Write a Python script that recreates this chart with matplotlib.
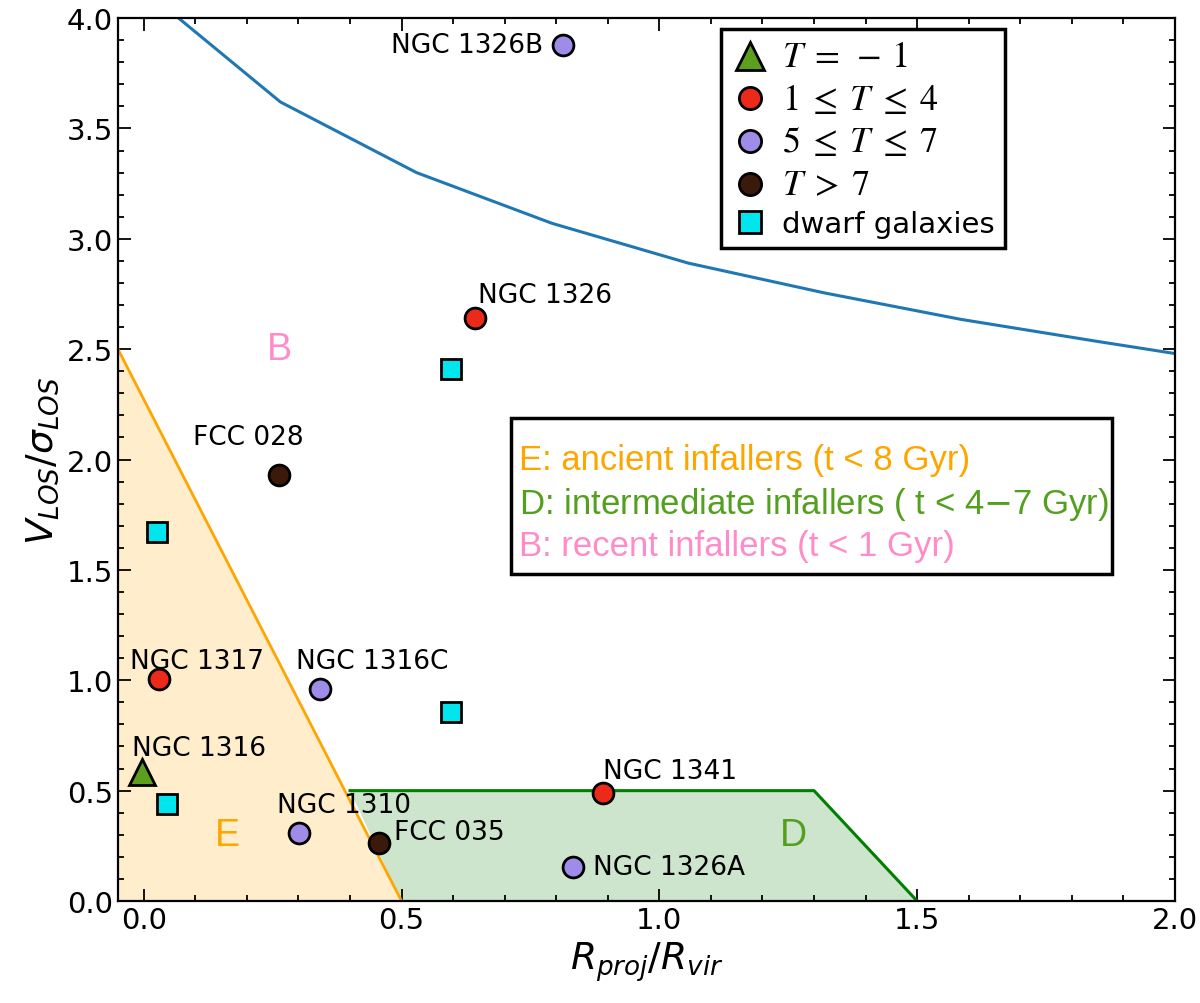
import matplotlib
matplotlib.use('Agg')
import matplotlib.pyplot as plt
from matplotlib.lines import Line2D
from matplotlib.patches import Rectangle, Polygon
from matplotlib.ticker import MultipleLocator

# blue envelope curve
curve_x = [0.0, 0.265, 0.529, 0.792, 1.056, 1.32, 1.585, 1.85, 2.11]
curve_y = [4.13, 3.62, 3.30, 3.07, 2.89, 2.755, 2.635, 2.535, 2.44]

# infall regions
E_x = [-0.05, 0.5, -0.05]
E_y = [2.5, 0.0, 0.0]
D_x = [0.4, 1.3, 1.5, 0.5]
D_y = [0.5, 0.5, 0.0, 0.0]

# galaxies
tm1_x = [-0.003]
tm1_y = [0.585]
tm1_names = ['NGC 1316']

t14_x = [0.03, 0.643, 0.89]
t14_y = [1.005, 2.64, 0.49]
t14_names = ['NGC 1317', 'NGC 1326', 'NGC 1341']

t57_x = [0.342, 0.302, 0.833, 0.813]
t57_y = [0.96, 0.31, 0.152, 3.88]
t57_names = ['NGC 1316C', 'NGC 1310', 'NGC 1326A', 'NGC 1326B']

t7_x = [0.263, 0.456]
t7_y = [1.93, 0.262]
t7_names = ['FCC 028', 'FCC 035']

dwarf_x = [0.045, 0.025, 0.595, 0.595]
dwarf_y = [0.44, 1.67, 2.41, 0.855]

# label offsets in points (dx, dy, ha)
offsets = {
    'NGC 1316': (-7, 17, 'left'),
    'NGC 1317': (-21, 13, 'left'),
    'NGC 1326': (2, 17, 'left'),
    'NGC 1341': (0, 16, 'left'),
    'NGC 1316C': (-17, 20, 'left'),
    'NGC 1310': (-16, 20, 'left'),
    'NGC 1326A': (14, 0, 'left'),
    'NGC 1326B': (-14, 0, 'right'),
    'FCC 028': (-62, 27, 'left'),
    'FCC 035': (11, 8, 'left'),
}

c_tri = '#5c9e1e'
c_red = '#eb2a1a'
c_pur = '#9f8be8'
c_brn = '#3b1a0c'
c_cya = '#00e5ee'

plt.rcParams['font.family'] = 'DejaVu Sans'

fig = plt.figure(figsize=(12, 10.04), dpi=100)
ax = fig.add_axes([0.0983, 0.1016, 0.8808, 0.8794])

ax.add_patch(Polygon(list(zip(E_x, E_y)), closed=True, fc='orange', alpha=0.2, lw=0, zorder=1))
ax.add_patch(Polygon(list(zip(D_x, D_y)), closed=True, fc='green', alpha=0.2, lw=0, zorder=1))
ax.plot(E_x[:2], E_y[:2], color='orange', lw=2, zorder=2)
ax.plot(D_x[:3], D_y[:3], color='green', lw=2.2, zorder=2)
ax.plot(curve_x, curve_y, color='#1f77b4', lw=2.2, zorder=2)

mk = dict(ls='none', mec='black', mew=2, zorder=4)
ax.plot(tm1_x, tm1_y, marker='^', ms=19, mfc=c_tri, **mk)
ax.plot(t14_x, t14_y, marker='o', ms=15, mfc=c_red, **mk)
ax.plot(t57_x, t57_y, marker='o', ms=15, mfc=c_pur, **mk)
ax.plot(t7_x, t7_y, marker='o', ms=15, mfc=c_brn, **mk)
ax.plot(dwarf_x, dwarf_y, marker='s', ms=15, mfc=c_cya, **mk)

for xs, ys, ns in [(tm1_x, tm1_y, tm1_names), (t14_x, t14_y, t14_names),
                   (t57_x, t57_y, t57_names), (t7_x, t7_y, t7_names)]:
    for x, y, n in zip(xs, ys, ns):
        dx, dy, ha = offsets[n]
        ax.annotate(n, (x, y), xytext=(dx, dy), textcoords='offset points',
                    ha=ha, va='center', fontsize=19, zorder=6)

# region letters
ax.text(0.263, 2.5, 'B', color='#ff8cc8', fontsize=27, family='Liberation Sans',
        ha='center', va='center')
ax.text(0.163, 0.30, 'E', color='orange', fontsize=27, family='Liberation Sans',
        ha='center', va='center')
ax.text(1.26, 0.30, 'D', color='#52a01e', fontsize=27, family='Liberation Sans',
        ha='center', va='center')

# explanation box
ax.add_patch(Rectangle((0.713, 1.483), 1.165, 0.703, fc='white', ec='black', lw=2.5, zorder=5))
ax.text(0.728, 2.0, 'E: ancient infallers (t < 8 Gyr)', color='orange',
        fontsize=25, family='Liberation Sans', va='center', zorder=6)
ax.text(0.728, 1.80, 'D: intermediate infallers ( t < 4$-$7 Gyr)', color='#52a01e',
        fontsize=25, family='Liberation Sans', va='center', zorder=6)
ax.text(0.728, 1.61, 'B: recent infallers (t < 1 Gyr)', color='#ff8cc8',
        fontsize=25, family='Liberation Sans', va='center', zorder=6)

handles = [
    Line2D([], [], marker='^', ms=20, mfc=c_tri, mec='black', mew=2, ls='none'),
    Line2D([], [], marker='o', ms=16, mfc=c_red, mec='black', mew=2, ls='none'),
    Line2D([], [], marker='o', ms=16, mfc=c_pur, mec='black', mew=2, ls='none'),
    Line2D([], [], marker='o', ms=16, mfc=c_brn, mec='black', mew=2, ls='none'),
    Line2D([], [], marker='s', ms=16, mfc=c_cya, mec='black', mew=2, ls='none'),
]
labels = [r'$T\;=\;-\,1$', r'$1\;\leq\;T\;\leq\;4$', r'$5\;\leq\;T\;\leq\;7$',
          r'$T\;>\;7$', 'dwarf galaxies']
leg = ax.legend(handles, labels, loc='upper right', bbox_to_anchor=(0.839, 0.988),
                borderaxespad=0, fancybox=False, edgecolor='black', framealpha=1,
                fontsize=21, handletextpad=0.45, handlelength=1.3, labelspacing=0.3,
                borderpad=0.35)
leg.get_frame().set_linewidth(2.5)
for t in leg.get_texts()[:4]:
    t.set_math_fontfamily('stix')
    t.set_fontsize(26)

ax.set_xlim(-0.05, 2.0)
ax.set_ylim(0, 4.0)
ax.xaxis.set_major_locator(MultipleLocator(0.5))
ax.xaxis.set_minor_locator(MultipleLocator(0.1))
ax.yaxis.set_major_locator(MultipleLocator(0.5))
ax.yaxis.set_minor_locator(MultipleLocator(0.1))
ax.tick_params(which='both', direction='in', top=True, right=True, labelsize=21, width=1.3)
ax.tick_params(which='major', length=9)
ax.tick_params(which='minor', length=4.5)
for s in ax.spines.values():
    s.set_linewidth(1.6)

ax.set_xlabel(r'$R_{proj}/R_{vir}$', fontsize=27)
ax.set_ylabel(r'$V_{LOS}/\sigma_{LOS}$', fontsize=27)

fig.savefig('out.png', dpi=100)
